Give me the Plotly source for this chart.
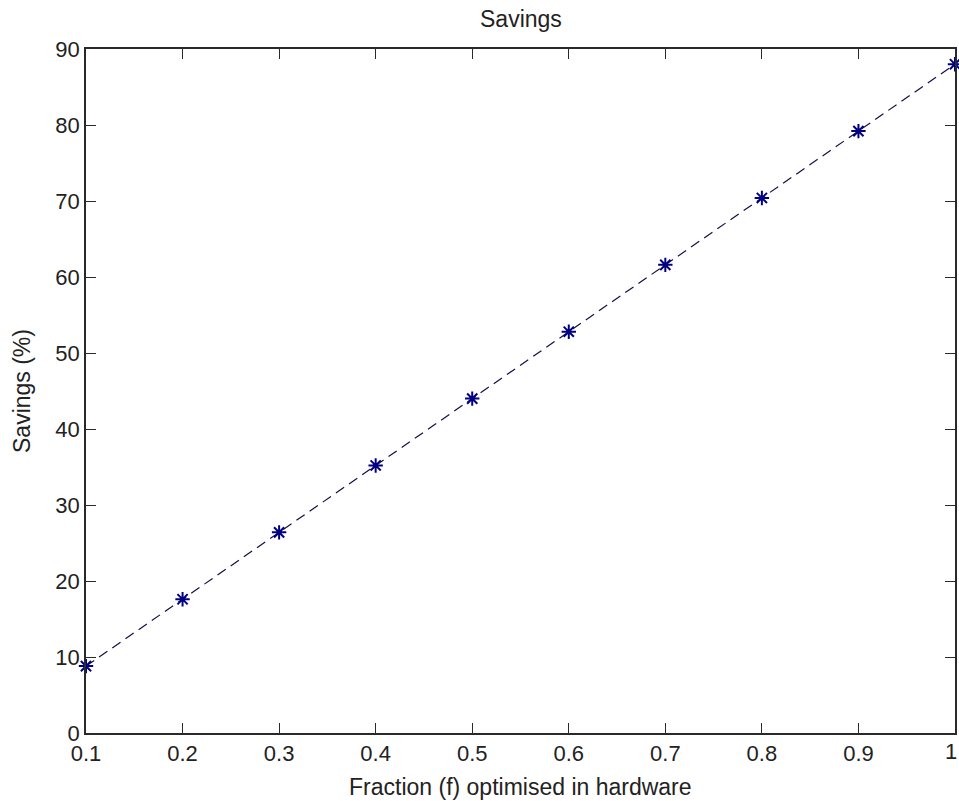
import plotly.graph_objects as go

fraction = [0.1, 0.2, 0.3, 0.4, 0.5, 0.6, 0.7, 0.8, 0.9, 1.0]
savings = [8.8, 17.6, 26.4, 35.2, 44.0, 52.8, 61.6, 70.4, 79.2, 88.0]
x_ticks = [0.1, 0.2, 0.3, 0.4, 0.5, 0.6, 0.7, 0.8, 0.9, 1.0]
x_tick_labels = ["0.1", "0.2", "0.3", "0.4", "0.5", "0.6", "0.7", "0.8", "0.9", "1"]
y_ticks = [0, 10, 20, 30, 40, 50, 60, 70, 80, 90]
title_text = "Savings"
x_title = "Fraction (f) optimised in hardware"
y_title = "Savings (%)"

W, H = 959, 801
L, R, T, B = 86, 4, 49, 68

fig = go.Figure()
fig.add_trace(go.Scatter(
    x=fraction, y=savings, mode="lines+markers",
    line=dict(color="#10104a", width=1.2, dash="10px,6px"),
    marker=dict(symbol="asterisk-open", size=12, color="#000080",
                line=dict(color="#000080", width=2)),
    showlegend=False, cliponaxis=False,
))

font = "Liberation Sans, Arial, Helvetica, sans-serif"
tick_font = dict(family=font, size=22, color="#222")
axis_common = dict(
    showline=True, linecolor="#2a2a2a", linewidth=1.5, mirror="ticks",
    ticks="inside", ticklen=10, tickcolor="#2a2a2a", tickwidth=1.2,
    showgrid=False, zeroline=False, automargin=False,
    tickfont=tick_font,
)
# last x label is drawn as an annotation so it is not dropped at the edge
shown_x_labels = x_tick_labels[:-1] + [""]
fig.update_layout(
    width=W, height=H,
    margin=dict(l=L, r=R, t=T, b=B),
    paper_bgcolor="white", plot_bgcolor="white",
    xaxis=dict(range=[0.1, 1.0], tickvals=x_ticks, ticktext=shown_x_labels, **axis_common),
    yaxis=dict(range=[0, 90], tickvals=y_ticks, **axis_common),
)
fig.add_annotation(text=x_tick_labels[-1], xref="x", yref="paper",
                   x=x_ticks[-1], y=0, xanchor="right", yanchor="top",
                   xshift=4, yshift=-4, showarrow=False, font=tick_font)
fig.add_annotation(text=title_text, xref="paper", yref="paper",
                   x=0.5, y=1 + (T - 19) / (H - T - B), xanchor="center", yanchor="middle",
                   showarrow=False, font=dict(family=font, size=23, color="#222"))
fig.add_annotation(text=x_title, xref="paper", yref="paper",
                   x=0.5, y=-(787 - (H - B)) / (H - T - B), xanchor="center", yanchor="middle",
                   showarrow=False, font=dict(family=font, size=23, color="#222"))
fig.add_annotation(text=y_title, xref="paper", yref="paper", textangle=-90,
                   x=-(L - 22) / (W - L - R), y=0.5, xanchor="center", yanchor="middle",
                   showarrow=False, font=dict(family=font, size=23, color="#222"))
fig.write_html("out.html", config={"displayModeBar": False},
               post_script="document.body.style.margin='0px';document.body.style.overflow='hidden';")
